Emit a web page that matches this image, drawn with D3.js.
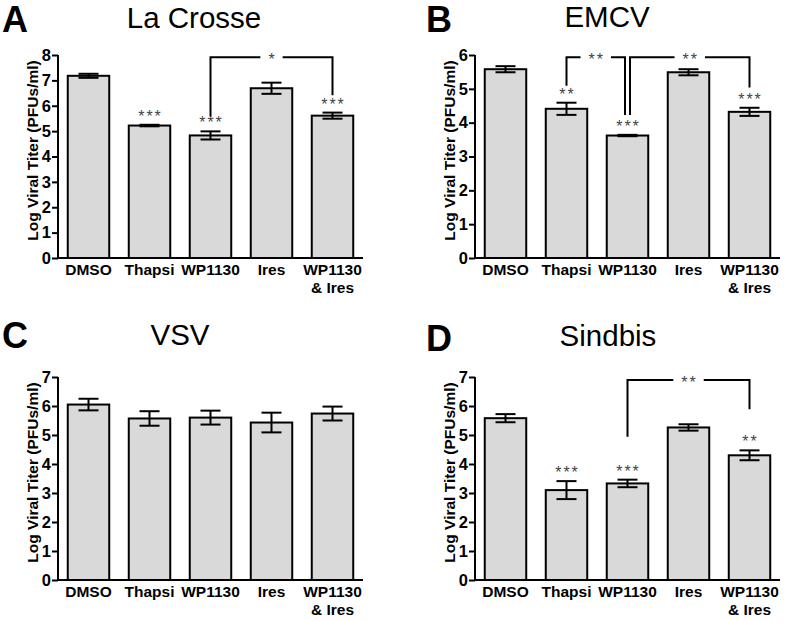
<!DOCTYPE html>
<html>
<head>
<meta charset="utf-8">
<script src="https://cdn.jsdelivr.net/npm/d3@7"></script>
<style>
  html, body { margin: 0; padding: 0; background: #fff; }
  svg { display: block; }
  text { font-family: "Liberation Sans", Arial, Helvetica, sans-serif; }
</style>
</head>
<body>
<svg id="chart" width="785" height="621"></svg>
<script>
// ---------- data ----------
const categories = ["DMSO", "Thapsi", "WP1130", "Ires", "WP1130 & Ires"];
const categoryLines = [["DMSO"], ["Thapsi"], ["WP1130"], ["Ires"], ["WP1130", "& Ires"]];

const panelLetters = ["A", "B", "C", "D"];
const panelTitles = ["La Crosse", "EMCV", "VSV", "Sindbis"];
const yMaxima = [8, 6, 7, 7];
const yLabel = "Log Viral Titer (PFUs/ml)";

const meansA = [7.18, 5.22, 4.83, 6.69, 5.61];
const errorsA = [0.08, 0.03, 0.16, 0.22, 0.12];
const starsA = ["", "***", "***", "", "***"];
const bracketsA = [{ from: 2, to: 4, label: "*", top: 7.91, fromEnd: 5.58, toEnd: 6.41 }];

const meansB = [5.58, 4.41, 3.62, 5.49, 4.32];
const errorsB = [0.09, 0.18, 0.02, 0.09, 0.12];
const starsB = ["", "**", "***", "", "***"];
const bracketsB = [
  { from: 1, to: 2, label: "**", top: 5.93, fromEnd: 5.09, toEnd: 4.23 },
  { from: 2, to: 4, label: "**", top: 5.93, fromEnd: 4.23, toEnd: 5.04 }
];

const meansC = [6.05, 5.57, 5.60, 5.43, 5.74];
const errorsC = [0.20, 0.25, 0.24, 0.34, 0.24];
const starsC = ["", "", "", "", ""];
const bracketsC = [];

const meansD = [5.58, 3.10, 3.33, 5.26, 4.30];
const errorsD = [0.14, 0.31, 0.13, 0.11, 0.17];
const starsD = ["", "***", "***", "", "**"];
const bracketsD = [{ from: 2, to: 4, label: "**", top: 6.90, fromEnd: 4.94, toEnd: 5.89 }];

// ---------- layout ----------
const panels = [
  { means: meansA, errors: errorsA, stars: starsA, brackets: bracketsA, left: 58,  top: 55,  bottom: 258, letterX: 2,   letterY: 32,  titleX: 194, titleY: 28 },
  { means: meansB, errors: errorsB, stars: starsB, brackets: bracketsB, left: 475, top: 55,  bottom: 258, letterX: 426, letterY: 32,  titleX: 607, titleY: 27 },
  { means: meansC, errors: errorsC, stars: starsC, brackets: bracketsC, left: 58,  top: 377, bottom: 580, letterX: 2,   letterY: 348, titleX: 180, titleY: 345 },
  { means: meansD, errors: errorsD, stars: starsD, brackets: bracketsD, left: 475, top: 377, bottom: 580, letterX: 426, letterY: 351, titleX: 608, titleY: 346 }
];
const plotWidth = 305;
const capHalf = 10;

const svg = d3.select("#chart");

panels.forEach((p, pi) => {
  const g = svg.append("g");
  const x = d3.scaleBand().domain(categories).range([p.left, p.left + plotWidth])
    .paddingInner(0.32).paddingOuter(0.16);
  const y = d3.scaleLinear().domain([0, yMaxima[pi]]).range([p.bottom, p.top]);

  // panel letter and title
  g.append("text").attr("x", p.letterX).attr("y", p.letterY)
    .attr("font-size", 36).attr("font-weight", "bold").text(panelLetters[pi]);
  g.append("text").attr("x", p.titleX).attr("y", p.titleY)
    .attr("text-anchor", "middle").attr("font-size", 29.5).text(panelTitles[pi]);

  // bars
  const rows = categories.map((c, i) => ({ c, i, m: p.means[i], e: p.errors[i], s: p.stars[i] }));
  g.selectAll("rect.bar").data(rows).enter().append("rect")
    .attr("class", "bar")
    .attr("x", d => x(d.c)).attr("width", x.bandwidth())
    .attr("y", d => y(d.m)).attr("height", d => y(0) - y(d.m))
    .attr("fill", "#d9d9d9").attr("stroke", "#000").attr("stroke-width", 2);

  // error bars
  const eb = g.selectAll("g.err").data(rows).enter().append("g").attr("class", "err")
    .attr("stroke", "#000").attr("stroke-width", 2);
  eb.append("line")
    .attr("x1", d => x(d.c) + x.bandwidth() / 2).attr("x2", d => x(d.c) + x.bandwidth() / 2)
    .attr("y1", d => y(d.m - d.e)).attr("y2", d => y(d.m + d.e));
  eb.append("line")
    .attr("x1", d => x(d.c) + x.bandwidth() / 2 - capHalf).attr("x2", d => x(d.c) + x.bandwidth() / 2 + capHalf)
    .attr("y1", d => y(d.m + d.e)).attr("y2", d => y(d.m + d.e));
  eb.append("line")
    .attr("x1", d => x(d.c) + x.bandwidth() / 2 - capHalf).attr("x2", d => x(d.c) + x.bandwidth() / 2 + capHalf)
    .attr("y1", d => y(d.m - d.e)).attr("y2", d => y(d.m - d.e));

  // stars above bars
  g.selectAll("text.star").data(rows.filter(d => d.s)).enter().append("text")
    .attr("class", "star")
    .attr("x", d => x(d.c) + x.bandwidth() / 2 + 1)
    .attr("y", d => y(d.m + d.e) - 3)
    .attr("text-anchor", "middle").attr("font-size", 16).attr("letter-spacing", 2)
    .attr("fill", "#444").text(d => d.s);

  // brackets
  const usage = {};
  p.brackets.forEach(b => { usage[b.from] = (usage[b.from] || 0) + 1; usage[b.to] = (usage[b.to] || 0) + 1; });
  p.brackets.forEach(b => {
    let xf = x(categories[b.from]) + x.bandwidth() / 2;
    let xt = x(categories[b.to]) + x.bandwidth() / 2;
    if (usage[b.from] > 1) xf += 2.5;
    if (usage[b.to] > 1) xt -= 2.5;
    const yt = y(b.top);
    g.append("path")
      .attr("d", `M${xf},${y(b.fromEnd)}V${yt}H${xt}V${y(b.toEnd)}`)
      .attr("fill", "none").attr("stroke", "#000").attr("stroke-width", 2);
    const lbl = g.append("text").attr("x", (xf + xt) / 2 + 1).attr("y", yt + 8)
      .attr("text-anchor", "middle").attr("font-size", 16).attr("letter-spacing", 2)
      .attr("fill", "#444").text(b.label);
    const w = lbl.node().getComputedTextLength();
    g.insert("rect", "text:last-child")
      .attr("x", (xf + xt) / 2 - w / 2 - 7).attr("width", w + 14)
      .attr("y", yt - 3).attr("height", 6).attr("fill", "#fff");
  });

  // y axis
  const yAxis = d3.axisLeft(y).ticks(yMaxima[pi]).tickFormat(d3.format("d")).tickSize(6).tickPadding(1);
  const ya = g.append("g").attr("transform", `translate(${p.left},0)`).call(yAxis);
  ya.select(".domain").attr("stroke", "#000").attr("stroke-width", 2).attr("d", `M0,${p.bottom}V${p.top}`);
  ya.selectAll(".tick line").attr("stroke", "#000").attr("stroke-width", 2);
  ya.selectAll(".tick text").attr("font-size", 16.5).attr("font-weight", "bold")
    .attr("font-family", "Liberation Sans, Arial, sans-serif").attr("fill", "#000");

  // x axis
  const xAxis = d3.axisBottom(x).tickSize(0).tickFormat("");
  const xa = g.append("g").attr("transform", `translate(0,${p.bottom})`).call(xAxis);
  xa.select(".domain").attr("stroke", "#000").attr("stroke-width", 2)
    .attr("d", `M${p.left},0H${p.left + plotWidth}`);
  xa.selectAll(".tick text").remove();
  xa.selectAll(".tick").each(function (c, i) {
    const t = d3.select(this).append("text").attr("text-anchor", "middle")
      .attr("font-size", 15.5).attr("font-weight", "bold").attr("fill", "#000");
    categoryLines[i].forEach((ln, li) => {
      t.append("tspan").attr("x", 0).attr("y", 17 + li * 18).text(ln);
    });
  });

  // y label
  g.append("text")
    .attr("transform", `translate(${p.left - 20},${(p.top + p.bottom) / 2 - 6}) rotate(-90)`)
    .attr("text-anchor", "middle").attr("font-size", 15.5).attr("font-weight", "bold")
    .text(yLabel);
});
</script>
</body>
</html>
